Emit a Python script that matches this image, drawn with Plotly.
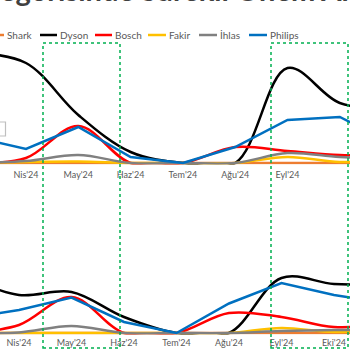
import plotly.graph_objects as go

# ---------------- data ----------------
months = ["Mar'24", "Nis'24", "May'24", "Haz'24", "Tem'24", "Ağu'24", "Eyl'24", "Eki'24", "Kas'24"]
brands = ["Shark", "Dyson", "Bosch", "Fakir", "İhlas", "Philips"]
colors = ["#ED7D31", "#000000", "#FF0000", "#FFC000", "#808080", "#0070C0"]

# upper panel
top_shark   = [0, 0, 0, 0, 0, 0, 0, 0, 0]
top_dyson   = [110, 100, 48, 11, 0, 0, 95, 60, 55]
top_bosch   = [0, 5, 37, 0, 0, 16, 12, 8, 8]
top_fakir   = [0, 1, 1.5, 0, 0, 0, 6, 1, 3]
top_ihlas   = [0, 2, 8, 0, 0, 0, 10, 6, 5]
top_philips = [26, 14, 36, 6, 0, 16, 43, 46, 20]

# lower panel
bot_shark   = [0, 0, 0, 0, 0, 0, 0, 0, 0]
bot_dyson   = [56, 38, 41, 16, 0, 0, 55, 49, 49]
bot_bosch   = [0, 8, 36, 0, 0, 20, 16, 6, 9]
bot_fakir   = [0, 0, 0, 0, 0, 0, 5, 1, 4]
bot_ihlas   = [0, 0.5, 7, 0, 0, 0, 2, 3, 3]
bot_philips = [15, 23, 35.5, 11, 0, 29.5, 50, 38, 30]

top_series = [top_shark, top_dyson, top_bosch, top_fakir, top_ihlas, top_philips]
bot_series = [bot_shark, bot_dyson, bot_bosch, bot_fakir, bot_ihlas, bot_philips]
smooth = [True, True, True, True, True, False]

title_text = "Süpürge Kategorisinde Sürekli Önem Alan Markalar"

# ---------------- figure ----------------
W = H = 350
def px(x):
    return x / W
def py(y):
    return 1 - y / H

idx = list(range(len(months)))
fig = go.Figure()
for s, b, c, sm in zip(top_series, brands, colors, smooth):
    fig.add_trace(go.Scatter(x=idx, y=s, name=b, mode="lines",
                             line=dict(color=c, width=2.5, shape="spline" if sm else "linear", smoothing=1),
                             xaxis="x", yaxis="y", showlegend=False, hoverinfo="skip"))
for s, b, c, sm in zip(bot_series, brands, colors, smooth):
    fig.add_trace(go.Scatter(x=idx, y=s, name=b, mode="lines",
                             line=dict(color=c, width=2.5, shape="spline" if sm else "linear", smoothing=1),
                             xaxis="x2", yaxis="y2", showlegend=False, hoverinfo="skip"))

tickfont = dict(family="Lato", size=9, color="#595959")
fig.update_layout(
    width=W, height=H, margin=dict(l=0, r=0, t=0, b=0),
    paper_bgcolor="white", plot_bgcolor="white",
    xaxis=dict(domain=[0, 1], range=[0.503, 7.195], tickvals=idx, ticktext=months,
               showgrid=False, zeroline=False, showline=False, tickfont=tickfont,
               ticks="", anchor="y", ticklabelstandoff=3),
    yaxis=dict(domain=[py(164.5), py(43)], range=[-1.5, 120], visible=False, anchor="x"),
    xaxis2=dict(domain=[0, 1], range=[0.638, 7.305], tickvals=idx, ticktext=months,
                showgrid=False, zeroline=False, showline=False, tickfont=tickfont,
                ticks="", anchor="y2", ticklabelstandoff=1),
    yaxis2=dict(domain=[py(334.5), py(190)], range=[-1.5, 143], visible=False, anchor="x2"),
)

shapes = []
annotations = []

# title (cropped at top, as in the reference)
annotations.append(dict(text="<b>" + title_text + "</b>", xref="paper", yref="paper",
                        x=px(-160), y=py(9), xanchor="left", yanchor="bottom",
                        showarrow=False, font=dict(family="Lato", size=29, color="#404040")))

# legend (manual)
leg_y = 35
leg_items = [(-6, 4, 5), (40, 57, 58), (95, 112, 113), (148, 166, 167), (199, 217, 218), (249, 267, 268)]
for (x0, x1, tx), b, c in zip(leg_items, brands, colors):
    shapes.append(dict(type="line", xref="paper", yref="paper", x0=px(x0), x1=px(x1),
                       y0=py(leg_y), y1=py(leg_y), line=dict(color=c, width=2.5)))
    annotations.append(dict(text=b, xref="paper", yref="paper", x=px(tx), y=py(leg_y),
                            xanchor="left", yanchor="middle", showarrow=False,
                            font=dict(family="Lato", size=10, color="#595959")))

# highlight rectangles
for x0, x1 in [(43, 120), (271, 348)]:
    shapes.append(dict(type="rect", xref="paper", yref="paper", x0=px(x0), x1=px(x1),
                       y0=py(348), y1=py(43), line=dict(color="#00B050", width=1.5, dash="dot"),
                       fillcolor="rgba(0,0,0,0)"))

# cropped callout box edge at left
shapes.append(dict(type="rect", xref="paper", yref="paper", x0=px(-12), x1=px(5.5),
                   y0=py(136), y1=py(122), line=dict(color="#BFBFBF", width=1.2),
                   fillcolor="rgba(255,255,255,0)"))

fig.update_layout(shapes=shapes, annotations=annotations)
fig.write_html("out.html")
